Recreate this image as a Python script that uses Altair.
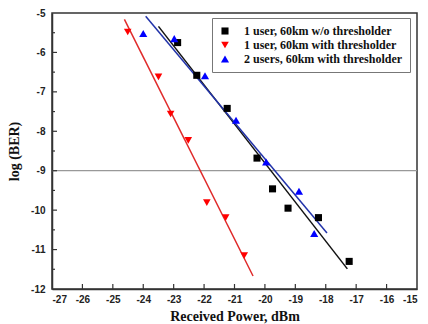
import altair as alt
import pandas as pd

series_names = ["1 user, 60km w/o thresholder",
                "1 user, 60km with thresholder",
                "2 users, 60km with thresholder"]

# 1 user, 60km w/o thresholder
s1_x = [-22.87, -22.24, -21.24, -20.26, -19.75, -19.24, -18.24, -17.23]
s1_y = [-5.75, -6.58, -7.42, -8.68, -9.46, -9.95, -10.19, -11.30]
# 1 user, 60km with thresholder
s2_x = [-24.51, -23.50, -23.10, -22.52, -21.91, -21.29, -20.68]
s2_y = [-5.48, -6.62, -7.56, -8.23, -9.81, -10.19, -11.15]
# 2 users, 60km with thresholder
s3_x = [-24.00, -22.98, -21.97, -20.95, -19.96, -18.88, -18.38]
s3_y = [-5.52, -5.65, -6.59, -7.72, -8.78, -9.52, -10.59]

# fitted line end points
fit1_x = [-23.50, -17.29]
fit1_y = [-5.34, -11.49]
fit2_x = [-24.62, -20.39]
fit2_y = [-5.16, -11.67]
fit3_x = [-23.92, -17.96]
fit3_y = [-5.08, -10.58]

threshold = -9.0
x_ticks = list(range(-27, -14))
y_ticks = list(range(-12, -4))
y_minor = [-11.5, -10.5, -9.5, -8.5, -7.5, -6.5, -5.5]

colors = ["#000000", "#ff0000", "#0000ff"]
shapes = ["square", "triangle-down", "triangle-up"]
sizes = [50, 66, 66]

rows = []
for name, xs_, ys_ in zip(series_names, [s1_x, s2_x, s3_x], [s1_y, s2_y, s3_y]):
    for a, b in zip(xs_, ys_):
        rows.append({"series": name, "x": a, "y": b})
pts = pd.DataFrame(rows)

W, H = 365, 276
xs = alt.Scale(domain=[-27, -15], nice=False)
ys = alt.Scale(domain=[-12, -5], nice=False)

serif = "Liberation Serif"
sans = "Liberation Sans"

lbl = "'-' + abs(datum.value)"
xaxis = alt.Axis(values=x_ticks, labelExpr=lbl, ticks=False, grid=False, labelOverlap=False,
                 labelFont=sans, labelFontWeight="bold", labelFontSize=10,
                 labelColor="#222", labelPadding=5, domainColor="#333", domainWidth=1.5,
                 title="Received Power, dBm", titleFont=serif, titleFontSize=14,
                 titleFontWeight="bold", titleColor="#111", titlePadding=5)
yaxis = alt.Axis(values=y_ticks, labelExpr=lbl, ticks=False, grid=False, labelOverlap=False,
                 labelFont=sans, labelFontWeight="bold", labelFontSize=10,
                 labelColor="#222", labelPadding=7, domainColor="#333", domainWidth=1.5,
                 title="log (BER)", titleFont=serif, titleFontSize=14,
                 titleFontWeight="bold", titleColor="#111", titlePadding=9)

X = lambda: alt.X("x:Q", scale=xs, axis=xaxis)
Y = lambda: alt.Y("y:Q", scale=ys, axis=yaxis)

thr = alt.Chart(pd.DataFrame({"y": [threshold]})).mark_rule(color="#999", strokeWidth=1.2).encode(
    y=Y()
)

xt = alt.Chart(pd.DataFrame({"x": x_ticks[1:-1]})).mark_rule(color="#333", strokeWidth=1.2).encode(
    x=X(), y=alt.value(H), y2=alt.value(H - 5)
)
yt = alt.Chart(pd.DataFrame({"y": y_ticks[1:-1]})).mark_rule(color="#333", strokeWidth=1.2).encode(
    y=Y(), x=alt.value(0), x2=alt.value(5)
)
ytm = alt.Chart(pd.DataFrame({"y": y_minor})).mark_rule(color="#333", strokeWidth=1.2).encode(
    y=Y(), x=alt.value(0), x2=alt.value(3)
)

def fit(xv, yv, col):
    return alt.Chart(pd.DataFrame({"x": xv, "y": yv})).mark_line(color=col, strokeWidth=1.5).encode(
        x=X(), y=Y()
    )

l1 = fit(fit1_x, fit1_y, "#111111")
l2 = fit(fit2_x, fit2_y, "#e02a2a")
l3 = fit(fit3_x, fit3_y, "#2233aa")

points = alt.Chart(pts).mark_point(filled=True, opacity=1).encode(
    x=X(),
    y=Y(),
    color=alt.Color("series:N", scale=alt.Scale(domain=series_names, range=colors),
                    legend=alt.Legend(title=None, orient="none", legendX=160, legendY=5)),
    shape=alt.Shape("series:N", scale=alt.Scale(domain=series_names, range=shapes)),
    size=alt.Size("series:N", scale=alt.Scale(domain=series_names, range=sizes), legend=None),
)

chart = alt.layer(thr, xt, yt, ytm, l1, l2, l3, points).properties(
    width=W, height=H,
    autosize=alt.AutoSizeParams(type="none"),
    padding={"left": 44, "top": 5, "right": 3, "bottom": 37},
).configure_axis(
    labelOverlap=False
).configure_view(
    stroke="#333", strokeWidth=1.5
).configure_legend(
    strokeColor="#777", fillColor="white", padding=7, labelFont=serif,
    labelFontWeight="bold", labelFontSize=12, labelColor="#111",
    symbolSize=40, rowPadding=2, labelOffset=13, cornerRadius=0,
    labelLimit=300
)

chart.save("out.html", embed_options={"renderer": "svg", "actions": False})
